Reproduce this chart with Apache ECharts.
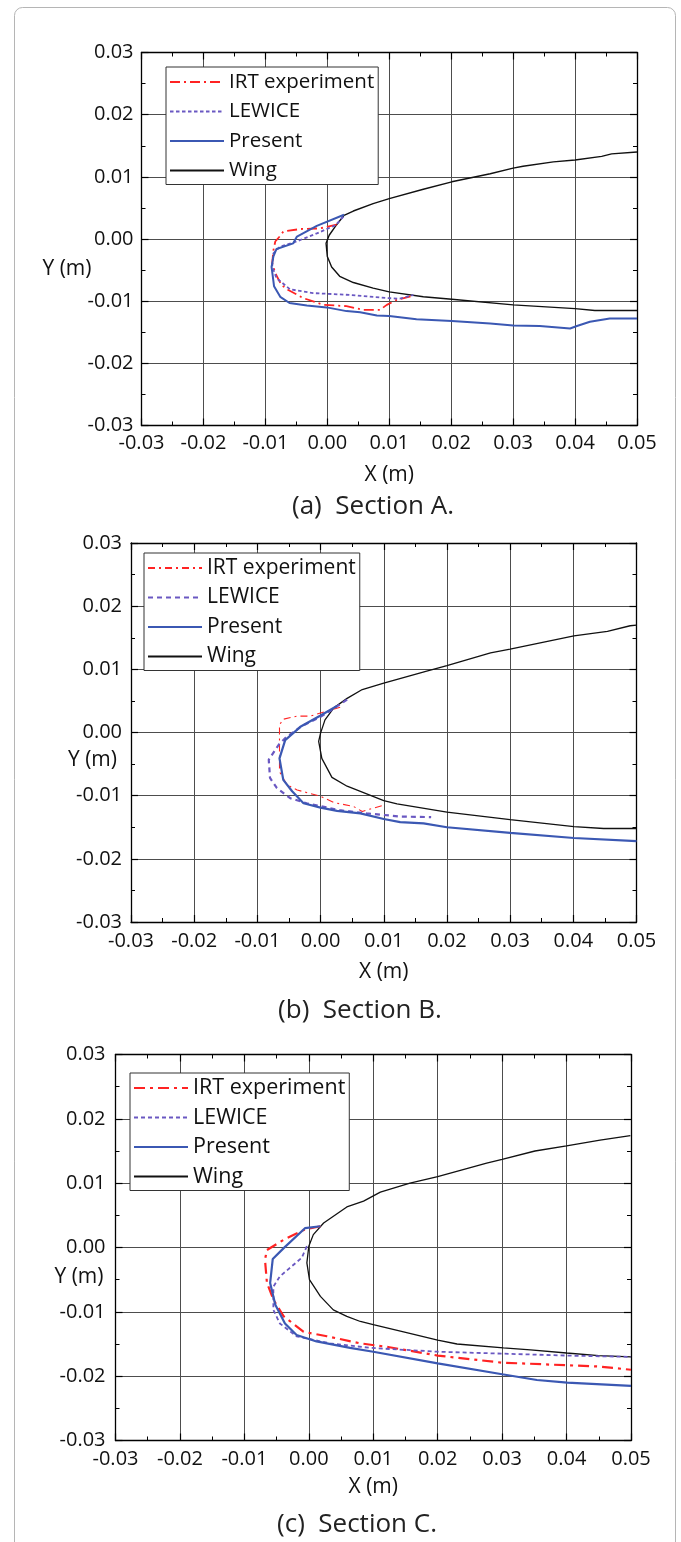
<!DOCTYPE html>
<html><head><meta charset="utf-8">
<script src="https://cdn.jsdelivr.net/npm/echarts@6/dist/echarts.min.js"></script>
<style>html,body{margin:0;padding:0;background:#fff}#c{width:681px;height:1542px}</style>
</head><body><div id="c"></div>
<script>
// ---------- data (metres) ----------
const seriesNames = ['IRT experiment', 'LEWICE', 'Present', 'Wing'];
const xRange = [-0.03, 0.05];
const yRange = [-0.03, 0.03];
const tickStep = 0.01;

// Section A
const irtA = [[0.0015,0.0023],[-0.0012,0.0017],[-0.0044,0.0016],[-0.0071,0.0012],[-0.0077,0.0004],[-0.0084,-0.0004],[-0.0087,-0.0018],[-0.0089,-0.0039],[-0.0084,-0.0055],[-0.0074,-0.0074],[-0.0063,-0.0082],[-0.0039,-0.0095],[-0.0006,-0.0106],[0.0031,-0.0108],[0.0058,-0.0114],[0.0085,-0.0114],[0.0096,-0.0106],[0.0112,-0.0098],[0.0136,-0.0092]];
const lewiceA = [[0.0026,0.0036],[0.0013,0.0022],[-0.0017,0.0009],[-0.0055,-0.0006],[-0.0076,-0.0012],[-0.0087,-0.0023],[-0.0089,-0.0044],[-0.0082,-0.0063],[-0.0060,-0.0081],[-0.0023,-0.0087],[0.0037,-0.0090],[0.0096,-0.0095],[0.0117,-0.0096],[0.0139,-0.0090]];
const presentA = [[0.0027,0.0039],[-0.0017,0.0021],[-0.0049,0.0004],[-0.0055,-0.0007],[-0.0082,-0.0016],[-0.0087,-0.0028],[-0.0090,-0.0045],[-0.0086,-0.0076],[-0.0076,-0.0093],[-0.0061,-0.0103],[-0.0033,-0.0107],[-0.0001,-0.0110],[0.0031,-0.0116],[0.0053,-0.0118],[0.0080,-0.0123],[0.0100,-0.0124],[0.0144,-0.0129],[0.0201,-0.0132],[0.0263,-0.0136],[0.0300,-0.0139],[0.0343,-0.0140],[0.0392,-0.0144],[0.0403,-0.0140],[0.0424,-0.0133],[0.0456,-0.0128],[0.0500,-0.0128]];
const wingA = [[0.0500,0.0140],[0.0459,0.0137],[0.0443,0.0133],[0.0400,0.0127],[0.0365,0.0124],[0.0316,0.0117],[0.0300,0.0114],[0.0263,0.0105],[0.0201,0.0092],[0.0155,0.0080],[0.0100,0.0065],[0.0074,0.0057],[0.0042,0.0045],[0.0027,0.0038],[0.0015,0.0023],[0.0003,0.0006],[-0.0002,-0.0007],[0.0000,-0.0028],[0.0007,-0.0045],[0.0020,-0.0060],[0.0042,-0.0070],[0.0074,-0.0079],[0.0100,-0.0085],[0.0155,-0.0093],[0.0201,-0.0097],[0.0300,-0.0106],[0.0400,-0.0112],[0.0432,-0.0115],[0.0500,-0.0115]];

// Section B
const irtB = [[0.0031,0.0040],[-0.0016,0.0026],[-0.0037,0.0026],[-0.0059,0.0021],[-0.0065,0.0012],[-0.0065,-0.0062],[-0.0053,-0.0083],[-0.0037,-0.0091],[0.0000,-0.0101],[0.0021,-0.0111],[0.0052,-0.0117],[0.0066,-0.0125],[0.0079,-0.0121],[0.0097,-0.0116]];
const lewiceB = [[0.0042,0.0052],[0.0018,0.0036],[0.0000,0.0025],[-0.0030,0.0010],[-0.0055,-0.0008],[-0.0066,-0.0019],[-0.0082,-0.0043],[-0.0080,-0.0072],[-0.0069,-0.0088],[-0.0048,-0.0104],[-0.0022,-0.0112],[0.0030,-0.0123],[0.0073,-0.0128],[0.0126,-0.0133],[0.0175,-0.0134]];
const presentB = [[0.0026,0.0042],[0.0000,0.0027],[-0.0032,0.0009],[-0.0056,-0.0012],[-0.0065,-0.0041],[-0.0059,-0.0075],[-0.0045,-0.0093],[-0.0027,-0.0112],[0.0000,-0.0119],[0.0026,-0.0124],[0.0063,-0.0128],[0.0100,-0.0137],[0.0126,-0.0142],[0.0163,-0.0144],[0.0200,-0.0150],[0.0300,-0.0159],[0.0401,-0.0167],[0.0500,-0.0172]];
const wingB = [[0.0500,0.0170],[0.0490,0.0169],[0.0454,0.0160],[0.0401,0.0153],[0.0300,0.0132],[0.0269,0.0126],[0.0200,0.0106],[0.0168,0.0097],[0.0100,0.0078],[0.0066,0.0068],[0.0042,0.0054],[0.0021,0.0039],[0.0007,0.0020],[0.0000,-0.0001],[-0.0003,-0.0014],[0.0002,-0.0041],[0.0018,-0.0071],[0.0042,-0.0085],[0.0100,-0.0108],[0.0121,-0.0113],[0.0200,-0.0126],[0.0300,-0.0138],[0.0401,-0.0149],[0.0448,-0.0152],[0.0500,-0.0152]];

// Section C
const irtC = [[0.0018,0.0033],[-0.0006,0.0028],[-0.0039,0.0012],[-0.0065,-0.0004],[-0.0068,-0.0019],[-0.0065,-0.0055],[-0.0055,-0.0081],[-0.0039,-0.0107],[-0.0008,-0.0131],[0.0028,-0.0138],[0.0080,-0.0149],[0.0125,-0.0155],[0.0200,-0.0168],[0.0300,-0.0179],[0.0400,-0.0183],[0.0450,-0.0185],[0.0500,-0.0190]];
const lewiceC = [[-0.0003,0.0002],[-0.0011,-0.0016],[-0.0045,-0.0045],[-0.0055,-0.0061],[-0.0055,-0.0097],[-0.0045,-0.0118],[-0.0019,-0.0138],[0.0033,-0.0149],[0.0095,-0.0156],[0.0200,-0.0162],[0.0300,-0.0165],[0.0400,-0.0168],[0.0500,-0.0170]];
const presentC = [[0.0018,0.0033],[-0.0006,0.0030],[-0.0039,-0.0001],[-0.0056,-0.0018],[-0.0060,-0.0055],[-0.0052,-0.0089],[-0.0037,-0.0118],[-0.0019,-0.0136],[0.0012,-0.0146],[0.0064,-0.0156],[0.0100,-0.0162],[0.0200,-0.0180],[0.0300,-0.0197],[0.0354,-0.0206],[0.0401,-0.0210],[0.0500,-0.0215]];
const wingC = [[0.0499,0.0174],[0.0452,0.0167],[0.0400,0.0158],[0.0351,0.0150],[0.0300,0.0137],[0.0276,0.0131],[0.0200,0.0110],[0.0157,0.0100],[0.0111,0.0086],[0.0085,0.0072],[0.0059,0.0063],[0.0023,0.0038],[0.0007,0.0020],[0.0000,0.0002],[-0.0003,-0.0024],[0.0001,-0.0050],[0.0018,-0.0076],[0.0038,-0.0097],[0.0059,-0.0107],[0.0080,-0.0115],[0.0100,-0.0120],[0.0147,-0.0131],[0.0200,-0.0144],[0.0230,-0.0150],[0.0302,-0.0156],[0.0344,-0.0159],[0.0400,-0.0164],[0.0450,-0.0168],[0.0500,-0.0170]];

const captions = ['(a)  Section A.', '(b)  Section B.', '(c)  Section C.'];
const xName = 'X (m)';
const yName = 'Y (m)';

// ---------- layout & style ----------
const F = "'Open Sans', 'Noto Sans', sans-serif";
const RED = '#ff2323', PURPLE = '#6a58c2', BLUE = '#3b58b3', BLACK = '#111';
const panels = [
  { key: 'A', data: [irtA, lewiceA, presentA, wingA],
    grid: { left: 141.5, top: 52.5, width: 495.5, height: 373 },
    legend: { left: 166, top: 67, fs: 20.5 }, cap: { x: 373, y: 507 },
    xNameGap: 39, yNameGap: 50, yShift: 30, xLabelMargin: 8, yLabelMargin: 8,
    styles: [ { color: RED, width: 1.8, type: [10, 4, 2, 4] },
              { color: PURPLE, width: 1.8, type: [3.5, 2.5] },
              { color: BLUE, width: 2, type: 'solid' },
              { color: BLACK, width: 1.4, type: 'solid' } ] },
  { key: 'B', data: [irtB, lewiceB, presentB, wingB],
    grid: { left: 131, top: 543, width: 505.5, height: 379 },
    legend: { left: 144, top: 553, fs: 21 }, cap: { x: 360, y: 1011 },
    xNameGap: 40, yNameGap: 14, yShift: 28, xLabelMargin: 9, yLabelMargin: 9,
    styles: [ { color: RED, width: 1.1, type: [7, 4, 2, 4] },
              { color: PURPLE, width: 2.2, type: [5, 4] },
              { color: BLUE, width: 2.2, type: 'solid' },
              { color: BLACK, width: 1.3, type: 'solid' } ] },
  { key: 'C', data: [irtC, lewiceC, presentC, wingC],
    grid: { left: 115.5, top: 1054.5, width: 515.5, height: 386 },
    legend: { left: 130, top: 1073, fs: 21.5 }, cap: { x: 357, y: 1525 },
    xNameGap: 36, yNameGap: 12, yShift: 30, xLabelMargin: 9, yLabelMargin: 10,
    styles: [ { color: RED, width: 2.2, type: [11, 5, 3, 5] },
              { color: PURPLE, width: 1.8, type: [4, 3] },
              { color: BLUE, width: 2.2, type: 'solid' },
              { color: BLACK, width: 1.3, type: 'solid' } ] }
];

const fmt = v => (Math.abs(v) < 1e-9 ? 0 : v).toFixed(2);
const axisBase = (min, max) => ({
  type: 'value', min: min, max: max, interval: tickStep,
  axisLine: { show: true, onZero: false, lineStyle: { color: '#000', width: 1.3 } },
  axisTick: { show: true, inside: true, length: 7, lineStyle: { color: '#000', width: 1.2 } },
  minorTick: { show: true, splitNumber: 2, length: 4, lineStyle: { color: '#000', width: 1 } },
  splitLine: { show: false }, minorSplitLine: { show: false }
});
const GRIDLINE = { show: true, lineStyle: { color: '#4d4d4d', width: 1 } };

const xAxis = [], yAxis = [], series = [], legend = [], grid = [], graphic = [];
panels.forEach((p, i) => {
  grid.push(Object.assign({ containLabel: false }, p.grid));
  xAxis.push(Object.assign(axisBase(xRange[0], xRange[1]), {
    gridIndex: i, position: 'bottom',
    axisLabel: { show: true, margin: p.xLabelMargin, formatter: fmt, fontSize: 20, color: '#111', fontFamily: F },
    splitLine: GRIDLINE,
    name: xName, nameLocation: 'middle', nameGap: p.xNameGap, nameMoveOverlap: false,
    nameTextStyle: { fontSize: 21, color: '#111', fontFamily: F }
  }));
  xAxis.push(Object.assign(axisBase(xRange[0], xRange[1]), {
    gridIndex: i, position: 'top', axisLabel: { show: false }
  }));
  yAxis.push(Object.assign(axisBase(yRange[0], yRange[1]), {
    gridIndex: i, position: 'left',
    axisLabel: { show: true, margin: p.yLabelMargin, formatter: fmt, fontSize: 20, color: '#111', fontFamily: F },
    splitLine: GRIDLINE,
    name: yName, nameLocation: 'middle', nameGap: p.yNameGap, nameRotate: 0, nameMoveOverlap: false,
    nameTextStyle: { fontSize: 21, color: '#111', fontFamily: F, align: 'right',
                     verticalAlign: 'top', lineHeight: p.yShift * 2 }
  }));
  yAxis.push(Object.assign(axisBase(yRange[0], yRange[1]), {
    gridIndex: i, position: 'right', axisLabel: { show: false }
  }));
  seriesNames.forEach((n, k) => {
    const st = p.styles[k];
    series.push({
      type: 'line', name: p.key + ':' + n,
      xAxisIndex: 2 * i, yAxisIndex: 2 * i,
      data: p.data[k], showSymbol: false, symbol: 'none', smooth: false,
      lineStyle: { color: st.color, width: st.width, type: st.type },
      itemStyle: { color: st.color },
      z: k === 3 ? 3 : 4, silent: true, animation: false
    });
  });
  legend.push({
    orient: 'vertical', left: p.legend.left, top: p.legend.top,
    data: seriesNames.map(n => p.key + ':' + n),
    formatter: name => name.slice(2),
    itemWidth: 54, itemHeight: 14, itemGap: 5.5,
    itemStyle: { color: 'rgba(0,0,0,0)', borderWidth: 0, opacity: 0 },
    padding: [3, 4, 2, 3], borderColor: '#333', borderWidth: 1, backgroundColor: '#fff',
    selectedMode: false,
    textStyle: { fontSize: p.legend.fs, lineHeight: 24, color: '#111', fontFamily: F }
  });
  graphic.push({
    type: 'text', x: p.cap.x, y: p.cap.y, silent: true,
    style: { text: captions[i], align: 'center', verticalAlign: 'middle',
             fontSize: 26, fontFamily: F, fill: '#222' }
  });
});
graphic.unshift({
  type: 'rect', shape: { x: 14.5, y: 7.5, width: 661, height: 1600, r: 8 },
  style: { fill: 'none', stroke: '#b5b5b5', lineWidth: 1 }, silent: true, z: -10
});

const chart = echarts.init(document.getElementById('c'), null, { renderer: 'canvas' });
chart.setOption({
  backgroundColor: '#fff', animation: false,
  grid, xAxis, yAxis, series, legend, graphic
});
</script></body></html>
